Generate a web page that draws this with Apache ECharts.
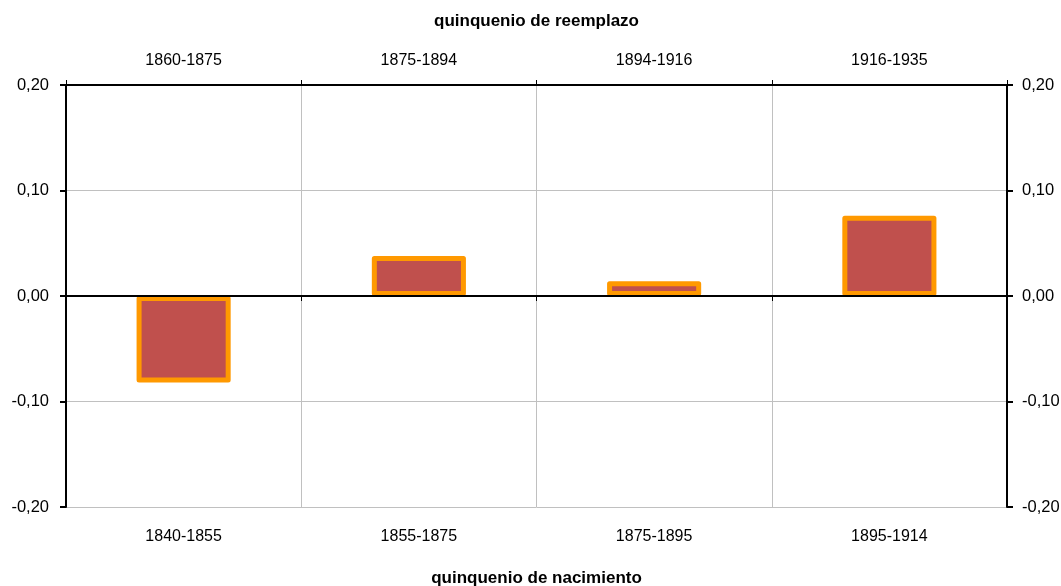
<!DOCTYPE html>
<html>
<head>
<meta charset="utf-8">
<script src="https://cdn.jsdelivr.net/npm/echarts@6/dist/echarts.min.js"></script>
<style>
  html, body { margin: 0; padding: 0; background: #fff; }
  #chart { width: 1061px; height: 586px; }
</style>
</head>
<body>
<div id="chart"></div>
<script>
var birthPeriods = ['1840-1855', '1855-1875', '1875-1895', '1895-1914'];
var replacePeriods = ['1860-1875', '1875-1894', '1894-1916', '1916-1935'];
var values = [-0.082, 0.038, 0.014, 0.076];

var myChart = echarts.init(document.getElementById('chart'));

var font = 'Liberation Sans, Arial, sans-serif';

function fmt(v) {
    return v.toFixed(2).replace('.', ',');
}

var yBase = {
    type: 'value',
    min: -0.2,
    max: 0.2,
    interval: 0.1,
    axisLine: {show: true, lineStyle: {color: '#000', width: 2}},
    axisTick: {show: true, length: 6, lineStyle: {color: '#000', width: 2}},
    axisLabel: {color: '#000', fontSize: 16.5, fontFamily: font, formatter: fmt}
};

var option = {
    animation: false,
    grid: {left: 66, right: 54, top: 85, bottom: 79, outerBoundsMode: 'none', containLabel: false},
    xAxis: [
        {
            // bottom labels only
            type: 'category',
            position: 'bottom',
            data: birthPeriods,
            axisLine: {show: false},
            axisTick: {show: false},
            splitLine: {show: true, lineStyle: {color: '#c0c0c0', width: 1}},
            axisLabel: {color: '#000', fontSize: 16, fontFamily: font, margin: 22},
            name: 'quinquenio de nacimiento',
            nameLocation: 'middle',
            nameGap: 63,
            nameTextStyle: {color: '#000', fontSize: 17, fontWeight: 'bold', fontFamily: font}
        },
        {
            type: 'category',
            position: 'top',
            data: replacePeriods,
            axisLine: {show: true, onZero: false, lineStyle: {color: '#000', width: 2}},
            axisTick: {show: true, length: 5, lineStyle: {color: '#000', width: 1}},
            axisLabel: {color: '#000', fontSize: 16, fontFamily: font, margin: 16},
            name: 'quinquenio de reemplazo',
            nameLocation: 'middle',
            nameGap: 55,
            nameTextStyle: {color: '#000', fontSize: 17, fontWeight: 'bold', fontFamily: font}
        },
        {
            // zero line
            type: 'category',
            position: 'bottom',
            data: birthPeriods,
            z: 10,
            axisLine: {show: true, onZero: true, lineStyle: {color: '#000', width: 2}},
            axisTick: {show: true, length: 5, lineStyle: {color: '#000', width: 1}},
            axisLabel: {show: false}
        }
    ],
    yAxis: [
        echarts.util.merge({
            position: 'left',
            axisLabel: {margin: 17},
            splitLine: {show: true, lineStyle: {color: '#c0c0c0', width: 1}}
        }, yBase),
        echarts.util.merge({
            position: 'right',
            axisLabel: {margin: 15},
            splitLine: {show: false}
        }, yBase)
    ],
    series: [
        {
            type: 'bar',
            data: values,
            barWidth: '40%',
            itemStyle: {
                color: '#c0504d',
                borderColor: '#ff9900',
                borderWidth: 5,
                borderJoin: 'round'
            }
        }
    ]
};

myChart.setOption(option);
</script>
</body>
</html>
